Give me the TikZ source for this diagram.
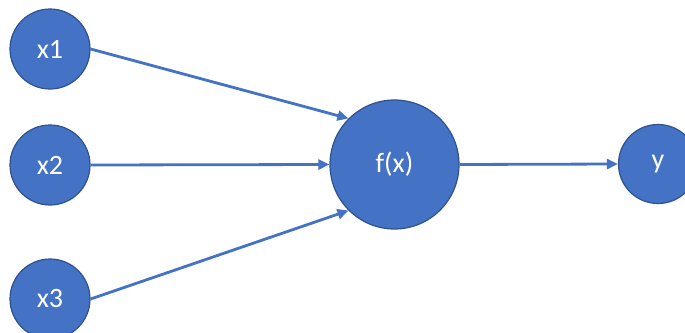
\documentclass[tikz,border=0pt]{standalone}
\usepackage{fontspec}
\setmainfont{Carlito}
\usetikzlibrary{arrows.meta}

\definecolor{nodeblue}{HTML}{4472C4}
\definecolor{edgeblue}{HTML}{2F528F}

\begin{document}
\begin{tikzpicture}[
  x=1pt, y=-1pt,
  neuron/.style={circle, draw=edgeblue, line width=1.2pt, fill=nodeblue, text=white, inner sep=0pt, font=\fontsize{28}{32}\selectfont},
  inputnode/.style={neuron, minimum size=80pt},
  arr/.style={-{Triangle[length=11pt, width=10pt]}, draw=nodeblue, line width=2.8pt}
]
\useasboundingbox (0,0) rectangle (685,332);
\node[inputnode] (x1) at (50,49) {x1};
\node[inputnode] (x2) at (50,165) {x2};
\node[inputnode] (x3) at (50,299) {x3};
\node[neuron, minimum size=129pt] (f) at (394.5,164.5) {f(x)};
\node[neuron, minimum size=79pt] (y) at (658,164) {y};
\draw[arr] (x1.east) -- (f.north west);
\draw[arr] (x2.east) -- (f.west);
\draw[arr] (x3.east) -- (f.south west);
\draw[arr] (f.east) -- (y.west);
\end{tikzpicture}
\end{document}
